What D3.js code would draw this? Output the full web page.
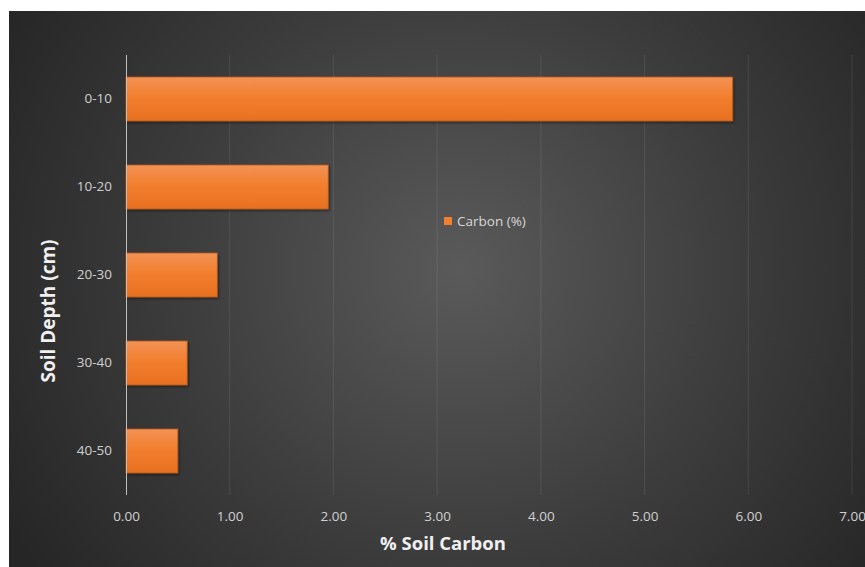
<!DOCTYPE html>
<html><head><meta charset="utf-8">
<script src="https://cdn.jsdelivr.net/npm/d3@7"></script>
<style>html,body{margin:0;padding:0;background:#fff;}svg{display:block;}</style>
</head><body>
<script>
const categories = ["0-10", "10-20", "20-30", "30-40", "40-50"];
const carbonValues = [5.85, 1.95, 0.88, 0.59, 0.50];
const xTicks = [0, 1, 2, 3, 4, 5, 6, 7];
const seriesName = "Carbon (%)";
const xTitle = "% Soil Carbon";
const yTitle = "Soil Depth (cm)";

const W = 865, H = 567;
const svg = d3.select("body").append("svg").attr("width", W).attr("height", H);
const defs = svg.append("defs");

const bg = defs.append("radialGradient").attr("id", "bg")
  .attr("gradientUnits", "userSpaceOnUse")
  .attr("cx", 460).attr("cy", 270).attr("r", 520);
bg.append("stop").attr("offset", "0%").attr("stop-color", "#5a5a5a");
bg.append("stop").attr("offset", "55%").attr("stop-color", "#3c3c3c");
bg.append("stop").attr("offset", "100%").attr("stop-color", "#262626");

const barG = defs.append("linearGradient").attr("id", "barg")
  .attr("x1", 0).attr("y1", 0).attr("x2", 0).attr("y2", 1);
barG.append("stop").attr("offset", "0%").attr("stop-color", "#f39256");
barG.append("stop").attr("offset", "45%").attr("stop-color", "#f27f2e");
barG.append("stop").attr("offset", "100%").attr("stop-color", "#e8701f");

const sh = defs.append("filter").attr("id", "sh").attr("x", "-5%").attr("y", "-20%").attr("width", "115%").attr("height", "150%");
sh.append("feDropShadow").attr("dx", 1).attr("dy", 1.5).attr("stdDeviation", 1.2).attr("flood-color", "#000").attr("flood-opacity", 0.45);

svg.append("rect").attr("x", 9).attr("y", 11).attr("width", W - 9).attr("height", H - 11).attr("fill", "url(#bg)");

const plot = {left: 126, right: 852, top: 55, bottom: 495};
const x = d3.scaleLinear().domain([0, 7]).range([plot.left, plot.right]);
const y = d3.scaleBand().domain(categories).range([plot.top, plot.bottom]).paddingInner(0.5).paddingOuter(0.25);

// gridlines
svg.append("g").selectAll("line").data(xTicks.filter(d => d > 0)).join("line")
  .attr("x1", d => x(d)).attr("x2", d => x(d))
  .attr("y1", plot.top).attr("y2", plot.bottom)
  .attr("stroke", "#ffffff").attr("stroke-opacity", 0.09).attr("stroke-width", 1);

// bars
svg.append("g").selectAll("rect").data(categories).join("rect")
  .attr("x", x(0)).attr("y", d => y(d))
  .attr("width", (d, i) => x(carbonValues[i]) - x(0))
  .attr("height", y.bandwidth())
  .attr("fill", "url(#barg)")
  .attr("stroke", "#b0581c").attr("stroke-width", 0.8)
  .attr("filter", "url(#sh)");

// vertical axis line
svg.append("line").attr("x1", x(0) + 0.5).attr("x2", x(0) + 0.5)
  .attr("y1", plot.top).attr("y2", plot.bottom)
  .attr("stroke", "#bfbfbf").attr("stroke-width", 1);

const font = "'Open Sans', sans-serif";

// x tick labels
const xAxis = d3.axisBottom(x).tickValues(xTicks).tickFormat(d3.format(".2f")).tickSize(0).tickPadding(0);
const gx = svg.append("g").attr("transform", `translate(0, 512)`).call(xAxis);
gx.select(".domain").remove();
gx.selectAll("text").attr("fill", "#d0d0d0").attr("font-family", font).attr("font-size", 13.5).attr("dy", "0.32em").attr("y", 5);

// y tick labels
const yAxis = d3.axisLeft(y).tickSize(0).tickPadding(0);
const gy = svg.append("g").attr("transform", `translate(112, 0)`).call(yAxis);
gy.select(".domain").remove();
gy.selectAll("text").attr("fill", "#d0d0d0").attr("font-family", font).attr("font-size", 13.5);

// titles
svg.append("text").attr("x", 443).attr("y", 550).attr("text-anchor", "middle")
  .attr("font-family", font).attr("font-weight", "bold").attr("font-size", 18.5).attr("fill", "#f0f0f0").text(xTitle);
svg.append("text").attr("transform", "translate(55, 311) rotate(-90)").attr("text-anchor", "middle")
  .attr("font-family", font).attr("font-weight", "bold").attr("font-size", 19).attr("fill", "#f0f0f0").text(yTitle);

// legend
const lg = svg.append("g").attr("transform", "translate(444, 217)");
lg.append("rect").attr("x", 0).attr("y", 0).attr("width", 8).attr("height", 8).attr("fill", "#f07f2e");
lg.append("text").attr("x", 13).attr("y", 4).attr("dy", "0.35em").attr("font-family", font).attr("font-size", 13.5).attr("fill", "#d8d8d8").text(seriesName);
</script>
</body></html>
